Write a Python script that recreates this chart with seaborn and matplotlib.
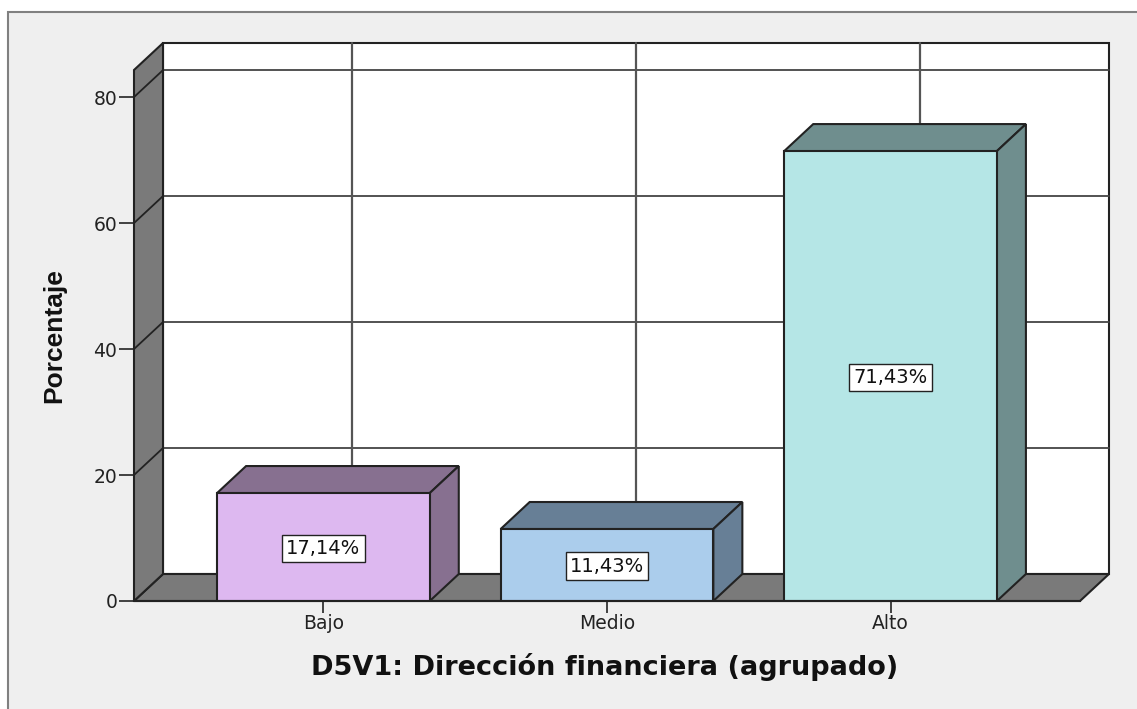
import matplotlib
matplotlib.use("Agg")
import matplotlib.pyplot as plt
import pandas as pd
import seaborn as sns
from matplotlib.patches import Polygon, Rectangle

# Values
categorias = ["Bajo", "Medio", "Alto"]
porcentajes = [17.14, 11.43, 71.43]
etiquetas = ["17,14%", "11,43%", "71,43%"]
colores = ["#DDB8F0", "#ABCDEC", "#B5E6E6"]
colores_lado = ["#877090", "#677F96", "#6F8E8E"]
marcas_y = [0, 20, 40, 60, 80]

FONDO = "#EFEFEF"
PARED = "#7A7A7A"
LINEA = "#222222"
W, H = 1137, 709

sns.set_style("white")
plt.rcParams["font.family"] = ["DejaVu Sans"]

df = pd.DataFrame({"categoria": categorias, "porcentaje": porcentajes})

fig = plt.figure(figsize=(W / 100, H / 100), dpi=100, facecolor="white")
# panel gris con marco, sin borde a la derecha
fig.add_artist(Rectangle((8 / W, -0.01), 1.1, 1 - 12 / H + 0.01, transform=fig.transFigure,
                         facecolor=FONDO, edgecolor="#808080", linewidth=1.5, zorder=-1))

# the axes is the front plane of the 3D box
ax = fig.add_axes([134 / W, 1 - 601 / H, (1080 - 134) / W, (601 - 70) / H])
ax.patch.set_alpha(0)

sns.barplot(data=df, x="categoria", y="porcentaje", hue="categoria", palette=colores,
            width=0.75, saturation=1, edgecolor=LINEA, linewidth=1.5, legend=False,
            ax=ax, zorder=6)

ax.set_xlim(-0.668, 2.668)
ax.set_ylim(0, 84.3)

# depth of the box in data units
dx = 29 / 283.5
dy = 27 / 6.3
x0, x1 = ax.get_xlim()
ymax = ax.get_ylim()[1]


def poly(puntos, color, z):
    ax.add_patch(Polygon(puntos, closed=True, facecolor=color, edgecolor=LINEA,
                         linewidth=1.5, clip_on=False, zorder=z))


barras = list(ax.patches)

# back wall, floor and left wall
poly([(x0 + dx, dy), (x1 + dx, dy), (x1 + dx, ymax + dy), (x0 + dx, ymax + dy)], "white", 1)
for v in marcas_y[1:]:
    ax.plot([x0 + dx, x1 + dx], [v + dy, v + dy], color="#444444", lw=1.3, clip_on=False, zorder=2)
for i in range(len(categorias)):
    ax.plot([i + dx, i + dx], [dy, ymax + dy], color="#555555", lw=1.6, clip_on=False, zorder=2)
poly([(x0, 0), (x1, 0), (x1 + dx, dy), (x0 + dx, dy)], PARED, 3)
poly([(x0, 0), (x0 + dx, dy), (x0 + dx, ymax + dy), (x0, ymax)], PARED, 3)
for v in marcas_y[1:]:
    ax.plot([x0, x0 + dx], [v, v + dy], color=LINEA, lw=1.3, clip_on=False, zorder=4)

# top and side of each bar, taken from the bars seaborn drew
for barra, lado, etiqueta in zip(barras, colores_lado, etiquetas):
    xa = barra.get_x()
    xb = xa + barra.get_width()
    alto = barra.get_height()
    poly([(xa, alto), (xb, alto), (xb + dx, alto + dy), (xa + dx, alto + dy)], lado, 5)
    poly([(xb, 0), (xb + dx, dy), (xb + dx, alto + dy), (xb, alto)], lado, 5)
    ax.text((xa + xb) / 2, alto / 2 - 0.2, etiqueta, ha="center", va="center", fontsize=14,
            color="#111111", zorder=8,
            bbox=dict(boxstyle="square,pad=0.22", facecolor="white", edgecolor=LINEA, linewidth=1))

sns.despine(ax=ax, top=True, right=True, left=True, bottom=False)
ax.spines["bottom"].set_color(LINEA)
ax.spines["bottom"].set_linewidth(1.5)
ax.spines["bottom"].set_zorder(7)

ax.set_yticks(marcas_y)
ax.tick_params(axis="both", length=11, width=1.3, color="#333333", labelsize=13.5,
               labelcolor="#222222", pad=1, left=True, bottom=True)
ax.tick_params(axis="x", length=8.5, pad=1)
ax.set_xlabel("")
ax.set_ylabel("")

fig.text(605 / W, 1 - 667 / H, "D5V1: Dirección financiera (agrupado)", ha="center", va="center",
         fontsize=19.5, fontweight="bold", color="#111111")
fig.text(54 / W, 1 - 336 / H, "Porcentaje", ha="center", va="center", rotation=90,
         fontsize=19, fontweight="bold", color="#111111",
         family=["Liberation Sans Narrow", "Liberation Sans"])

fig.savefig("out.png", dpi=100, facecolor="white")
